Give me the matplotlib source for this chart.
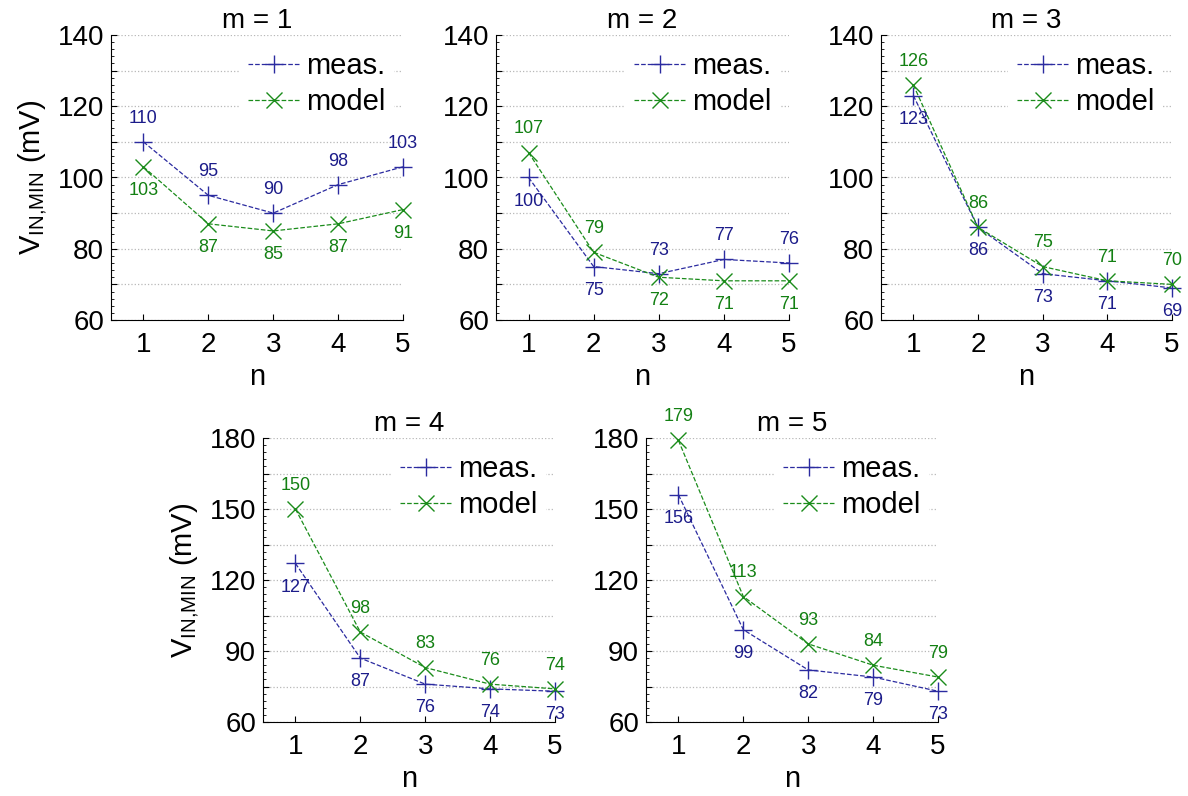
import numpy as np
import matplotlib
matplotlib.use("Agg")
from matplotlib import pyplot as plt
from matplotlib.ticker import MultipleLocator, FuncFormatter

plt.rcParams['font.family'] = ['Liberation Sans', 'DejaVu Sans']
plt.rcParams['mathtext.fontset'] = 'custom'
plt.rcParams['mathtext.rm'] = 'Liberation Sans'

# data
n = [1, 2, 3, 4, 5]
m_values = [1, 2, 3, 4, 5]
meas = [
    [110, 95, 90, 98, 103],
    [100, 75, 73, 77, 76],
    [123, 86, 73, 71, 69],
    [127, 87, 76, 74, 73],
    [156, 99, 82, 79, 73],
]
model = [
    [103, 87, 85, 87, 91],
    [107, 79, 72, 71, 71],
    [126, 86, 75, 71, 70],
    [150, 98, 83, 76, 74],
    [179, 113, 93, 84, 79],
]

blue = '#2b2ba0'
green = '#1b8c1b'
blue_txt = '#1c1c8a'
green_txt = '#138013'

W, H = 1188, 796
fig = plt.figure(figsize=(W / 100, H / 100), dpi=100)

# axes boxes in pixels: left, top, right, bottom
boxes = [
    (111, 35, 403, 320),
    (496, 35, 789, 320),
    (881, 35, 1172, 320),
    (263, 438, 555, 722),
    (646, 438, 938, 722),
]

for i, m in enumerate(m_values):
    l, t, r, b = boxes[i]
    ax = fig.add_axes([l / W, 1 - b / H, (r - l) / W, (b - t) / H])
    if i < 3:
        ylim, grid_step, lab_step, minor = (60, 140), 10, 20, 2
    else:
        ylim, grid_step, lab_step, minor = (60, 180), 15, 30, 3

    ax.plot(n, meas[i], linestyle='--', color=blue, marker='+', markersize=13,
            markeredgewidth=1.0, linewidth=0.9, label='meas.', zorder=3, clip_on=False)
    ax.plot(n, model[i], linestyle='--', color=green, marker='x', markersize=11,
            markeredgewidth=1.0, linewidth=0.9, label='model', zorder=3, clip_on=False)

    # the higher of the two values gets its label above, the other below
    for x, a, c in zip(n, meas[i], model[i]):
        up = a > c
        ax.annotate(str(a), (x, a), xytext=(0, 17 if up else -17), textcoords='offset points',
                    ha='center', va='center', fontsize=13, color=blue_txt)
        ax.annotate(str(c), (x, c), xytext=(0, -17 if up else 17), textcoords='offset points',
                    ha='center', va='center', fontsize=13, color=green_txt)

    ax.set_xlim(0.5, 5)
    ax.set_ylim(*ylim)
    ax.set_xticks(n)
    ax.yaxis.set_major_locator(MultipleLocator(grid_step))
    ax.yaxis.set_minor_locator(MultipleLocator(minor))
    ax.yaxis.set_major_formatter(FuncFormatter(
        lambda v, p, s=lab_step, y0=ylim[0]: '%d' % v if round(v - y0) % s == 0 else ''))
    ax.grid(axis='y', which='major', linestyle=':', color='#b8b8b8', linewidth=0.9)
    ax.spines['top'].set_visible(False)
    ax.spines['right'].set_visible(False)
    ax.tick_params(direction='in', labelsize=20, length=4, width=0.8)
    ax.tick_params(axis='y', which='minor', direction='in', length=2, width=0.6)
    ax.tick_params(axis='x', pad=9)
    ax.tick_params(axis='y', pad=5)
    ax.set_title('m = %d' % m, fontsize=20, pad=5)
    ax.set_xlabel('n', fontsize=21, labelpad=3)
    if i in (0, 3):
        ax.set_ylabel(r'V$_\mathrm{IN{,}MIN}$ (mV)', fontsize=21, labelpad=6)

    leg = ax.legend(loc='upper right', fontsize=21, frameon=True, fancybox=False,
                    handlelength=1.8, handletextpad=0.2, labelspacing=0.25,
                    borderaxespad=0.3, borderpad=0.3)
    leg.get_frame().set_edgecolor('none')
    leg.get_frame().set_facecolor('white')
    leg.get_frame().set_alpha(1)

fig.savefig('out.png', dpi=100)
